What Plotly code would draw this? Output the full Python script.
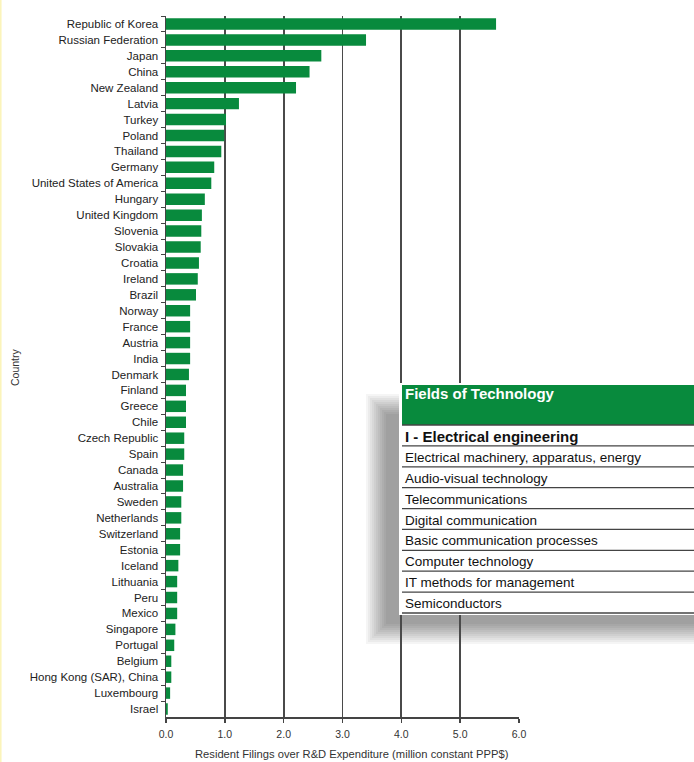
import plotly.graph_objects as go

countries = ["Republic of Korea", "Russian Federation", "Japan", "China", "New Zealand", "Latvia",
             "Turkey", "Poland", "Thailand", "Germany", "United States of America", "Hungary",
             "United Kingdom", "Slovenia", "Slovakia", "Croatia", "Ireland", "Brazil", "Norway",
             "France", "Austria", "India", "Denmark", "Finland", "Greece", "Chile", "Czech Republic",
             "Spain", "Canada", "Australia", "Sweden", "Netherlands", "Switzerland", "Estonia",
             "Iceland", "Lithuania", "Peru", "Mexico", "Singapore", "Portugal", "Belgium",
             "Hong Kong (SAR), China", "Luxembourg", "Israel"]
values = [5.61, 3.40, 2.64, 2.44, 2.21, 1.24,
          1.02, 0.99, 0.94, 0.82, 0.77, 0.66,
          0.61, 0.60, 0.59, 0.56, 0.54, 0.51, 0.41,
          0.41, 0.41, 0.41, 0.39, 0.34, 0.34, 0.34, 0.31,
          0.31, 0.29, 0.29, 0.26, 0.26, 0.24, 0.24,
          0.21, 0.19, 0.19, 0.19, 0.16, 0.14, 0.09,
          0.09, 0.07, 0.03]
x_ticks = [0, 1, 2, 3, 4, 5, 6]
x_ticklabels = ["0.0", "1.0", "2.0", "3.0", "4.0", "5.0", "6.0"]
x_title = "Resident Filings over R&D Expenditure (million constant PPP$)"
y_title = "Country"
table_title = "Fields of Technology"
table_group = "I - Electrical engineering"
table_rows = ["Electrical machinery, apparatus, energy", "Audio-visual technology",
              "Telecommunications", "Digital communication", "Basic communication processes",
              "Computer technology", "IT methods for management", "Semiconductors"]

W, H = 694, 762
L, R = 166, 519
T, B = 16, 717
GREEN = "#088a3d"
FONT = "Liberation Sans, Arial, sans-serif"


def px(x):
    return (x - L) / (R - L)


def py(y):
    return (B - y) / (B - T)


fig = go.Figure(go.Bar(
    x=values, y=countries, orientation="h",
    marker=dict(color=GREEN, line=dict(width=0)),
    width=0.72, hoverinfo="skip",
))

shapes = []
# soft drop shadow of the table box (under grid lines)
for k in range(11):
    g = k * 2
    shapes.append(dict(type="rect", xref="paper", yref="paper", layer="below",
                       x0=px(386 - g), x1=px(720), y0=py(624 + g), y1=py(414 - g),
                       fillcolor="rgba(0,0,0,0.038)", line=dict(width=0)))
# table box
shapes.append(dict(type="rect", xref="paper", yref="paper", layer="above",
                   x0=px(399), x1=px(720), y0=py(615), y1=py(383),
                   fillcolor="white", line=dict(width=0)))
shapes.append(dict(type="rect", xref="paper", yref="paper", layer="above",
                   x0=px(402), x1=px(720), y0=py(425), y1=py(385),
                   fillcolor=GREEN, line=dict(width=0)))
row_h = (613 - 425) / 9.0
for i in range(10):
    yl = 425 + i * row_h
    shapes.append(dict(type="line", xref="paper", yref="paper", layer="above",
                       x0=px(402), x1=px(720), y0=py(yl), y1=py(yl),
                       line=dict(color="#444444", width=1.3)))
# faint yellow edge on the left
shapes.append(dict(type="line", xref="paper", yref="paper", layer="above",
                   x0=px(0.8), x1=px(0.8), y0=py(0), y1=py(762),
                   line=dict(color="#fbf4b8", width=1.5)))

annotations = [dict(xref="paper", yref="paper", x=px(403), y=py(394), text="<b>" + table_title + "</b>",
                    showarrow=False, xanchor="left", yanchor="middle",
                    font=dict(family=FONT, size=15, color="white"))]
annotations.append(dict(xref="paper", yref="paper", x=px(403), y=py(425 + row_h * 0.55),
                        text="<b>" + table_group + "</b>", showarrow=False,
                        xanchor="left", yanchor="middle",
                        font=dict(family=FONT, size=15, color="#111111")))
for i, t in enumerate(table_rows):
    annotations.append(dict(xref="paper", yref="paper", x=px(403), y=py(425 + row_h * (i + 1.55)),
                            text=t, showarrow=False, xanchor="left", yanchor="middle",
                            font=dict(family=FONT, size=13.5, color="#111111")))
annotations.append(dict(xref="paper", yref="paper", x=px(15), y=py(367), text=y_title,
                        showarrow=False, textangle=-90, xanchor="center", yanchor="middle",
                        font=dict(family=FONT, size=10.5, color="#333333")))
annotations.append(dict(xref="paper", yref="paper", x=px(352), y=py(754), text=x_title,
                        showarrow=False, xanchor="center", yanchor="middle",
                        font=dict(family=FONT, size=11.2, color="#333333")))

fig.update_layout(
    width=W, height=H,
    margin=dict(l=L, r=W - R, t=T, b=H - B, autoexpand=False),
    paper_bgcolor="white", plot_bgcolor="white",
    showlegend=False, bargap=0.28, hovermode=False,
    shapes=shapes, annotations=annotations,
    font=dict(family=FONT, color="#333333"),
)
fig.update_xaxes(
    range=[0, 6], tickvals=x_ticks, ticktext=x_ticklabels,
    showgrid=True, gridcolor="#4a4a4a", gridwidth=1.8,
    zeroline=False, showline=True, linecolor="#444444", linewidth=1.5,
    ticks="outside", ticklen=4, tickcolor="#444444", tickwidth=1.5,
    ticklabelstandoff=3,
    tickfont=dict(size=10.5, color="#333333"),
)
fig.update_yaxes(
    categoryorder="array", categoryarray=countries, autorange="reversed",
    showgrid=False, showline=True, linecolor="#444444", linewidth=1.5,
    ticks="outside", ticklen=4, tickcolor="#444444", tickson="boundaries",
    ticklabelstandoff=4,
    tickfont=dict(size=11.5, color="#222222"),
)

fig.write_html(
    "out.html",
    config={"displayModeBar": False, "staticPlot": True},
    post_script="document.body.style.margin='0';document.body.style.overflow='hidden';",
)
